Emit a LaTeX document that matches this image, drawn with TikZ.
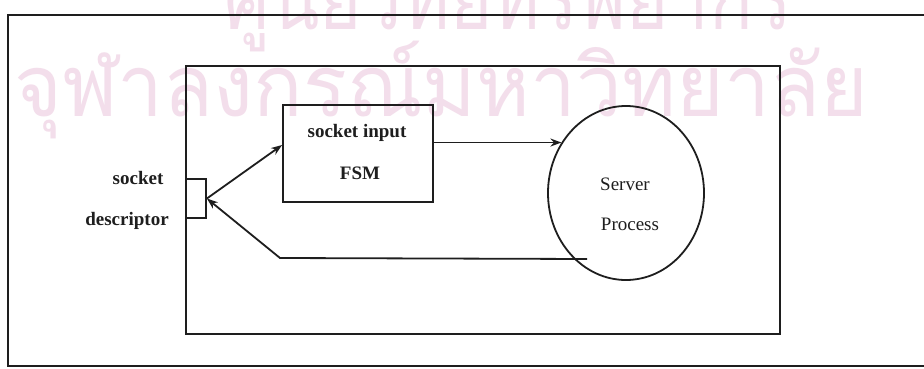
\documentclass[tikz,border=0pt]{standalone}
\usepackage{fontspec}
\setmainfont{Liberation Serif}
\newfontfamily\thaifont[Script=Thai]{Loma}
\usetikzlibrary{arrows.meta,shapes.geometric}
\definecolor{wmark}{RGB}{243,222,235}
\definecolor{ink}{RGB}{30,30,30}
\begin{document}
\begin{tikzpicture}[x=1pt,y=-1pt,
  frame/.style={draw=ink, line width=1.8pt},
  box/.style={draw=ink, line width=1.8pt, inner sep=0pt},
  lbl/.style={font=\fontsize{19}{22}\selectfont\bfseries, text=ink, inner sep=0pt, anchor=base},
  plain/.style={font=\fontsize{19}{22}\selectfont, text=ink, inner sep=0pt, anchor=base},
  wm/.style={font=\thaifont\fontsize{86}{100}\selectfont, text=wmark, inner sep=0pt},
  arr/.style={draw=ink, line width=1.8pt, -{Stealth[length=11pt,width=8pt]}}]
\useasboundingbox (0,0) rectangle (924,369);
\clip (0,0) rectangle (924,369);
\fill[white] (0,0) rectangle (924,369);
% watermark
\node[wm, anchor=base] (wm1) at (508,30) {\scalebox{0.84}[1]{ศูนย์วิทยทรัพยากร}};
\node[wm, anchor=base west] (wm2) at (14,116) {\scalebox{0.95}[1]{จุฬาลงกรณ์มหาวิทยาลัย}};
% frames
\draw[frame] (8,15) rectangle (945,366);
\draw[frame] (186,66) rectangle (780,334);
% nodes
\node[box, minimum width=20pt, minimum height=39pt] (sd) at (196,198.5) {};
\node[box, minimum width=150pt, minimum height=97pt] (fsm) at (358,153.5) {};
\node[box, ellipse, minimum width=156pt, minimum height=174pt] (circ) at (626,193) {};
% labels
\node[lbl] (t1) at (138,184) {socket};
\node[lbl] (t2) at (127,225) {descriptor};
\node[lbl] (t3) at (357,137) {socket input};
\node[lbl] (t4) at (360,179) {FSM};
\node[plain] (t5) at (625,190) {Server};
\node[plain] (t6) at (630,230) {Process};
% connectors
\coordinate (fin) at (fsm.west |- 0,145);
\coordinate (rs) at (587,259);
\coordinate (rk) at (280,258);
\draw[arr] (sd.east) -- (fin);
\draw[arr] (fsm.east |- circ.142.6) -- (circ.142.6);
\draw[arr] (rs) -- (rk) -- (sd.east);
\end{tikzpicture}
\end{document}
